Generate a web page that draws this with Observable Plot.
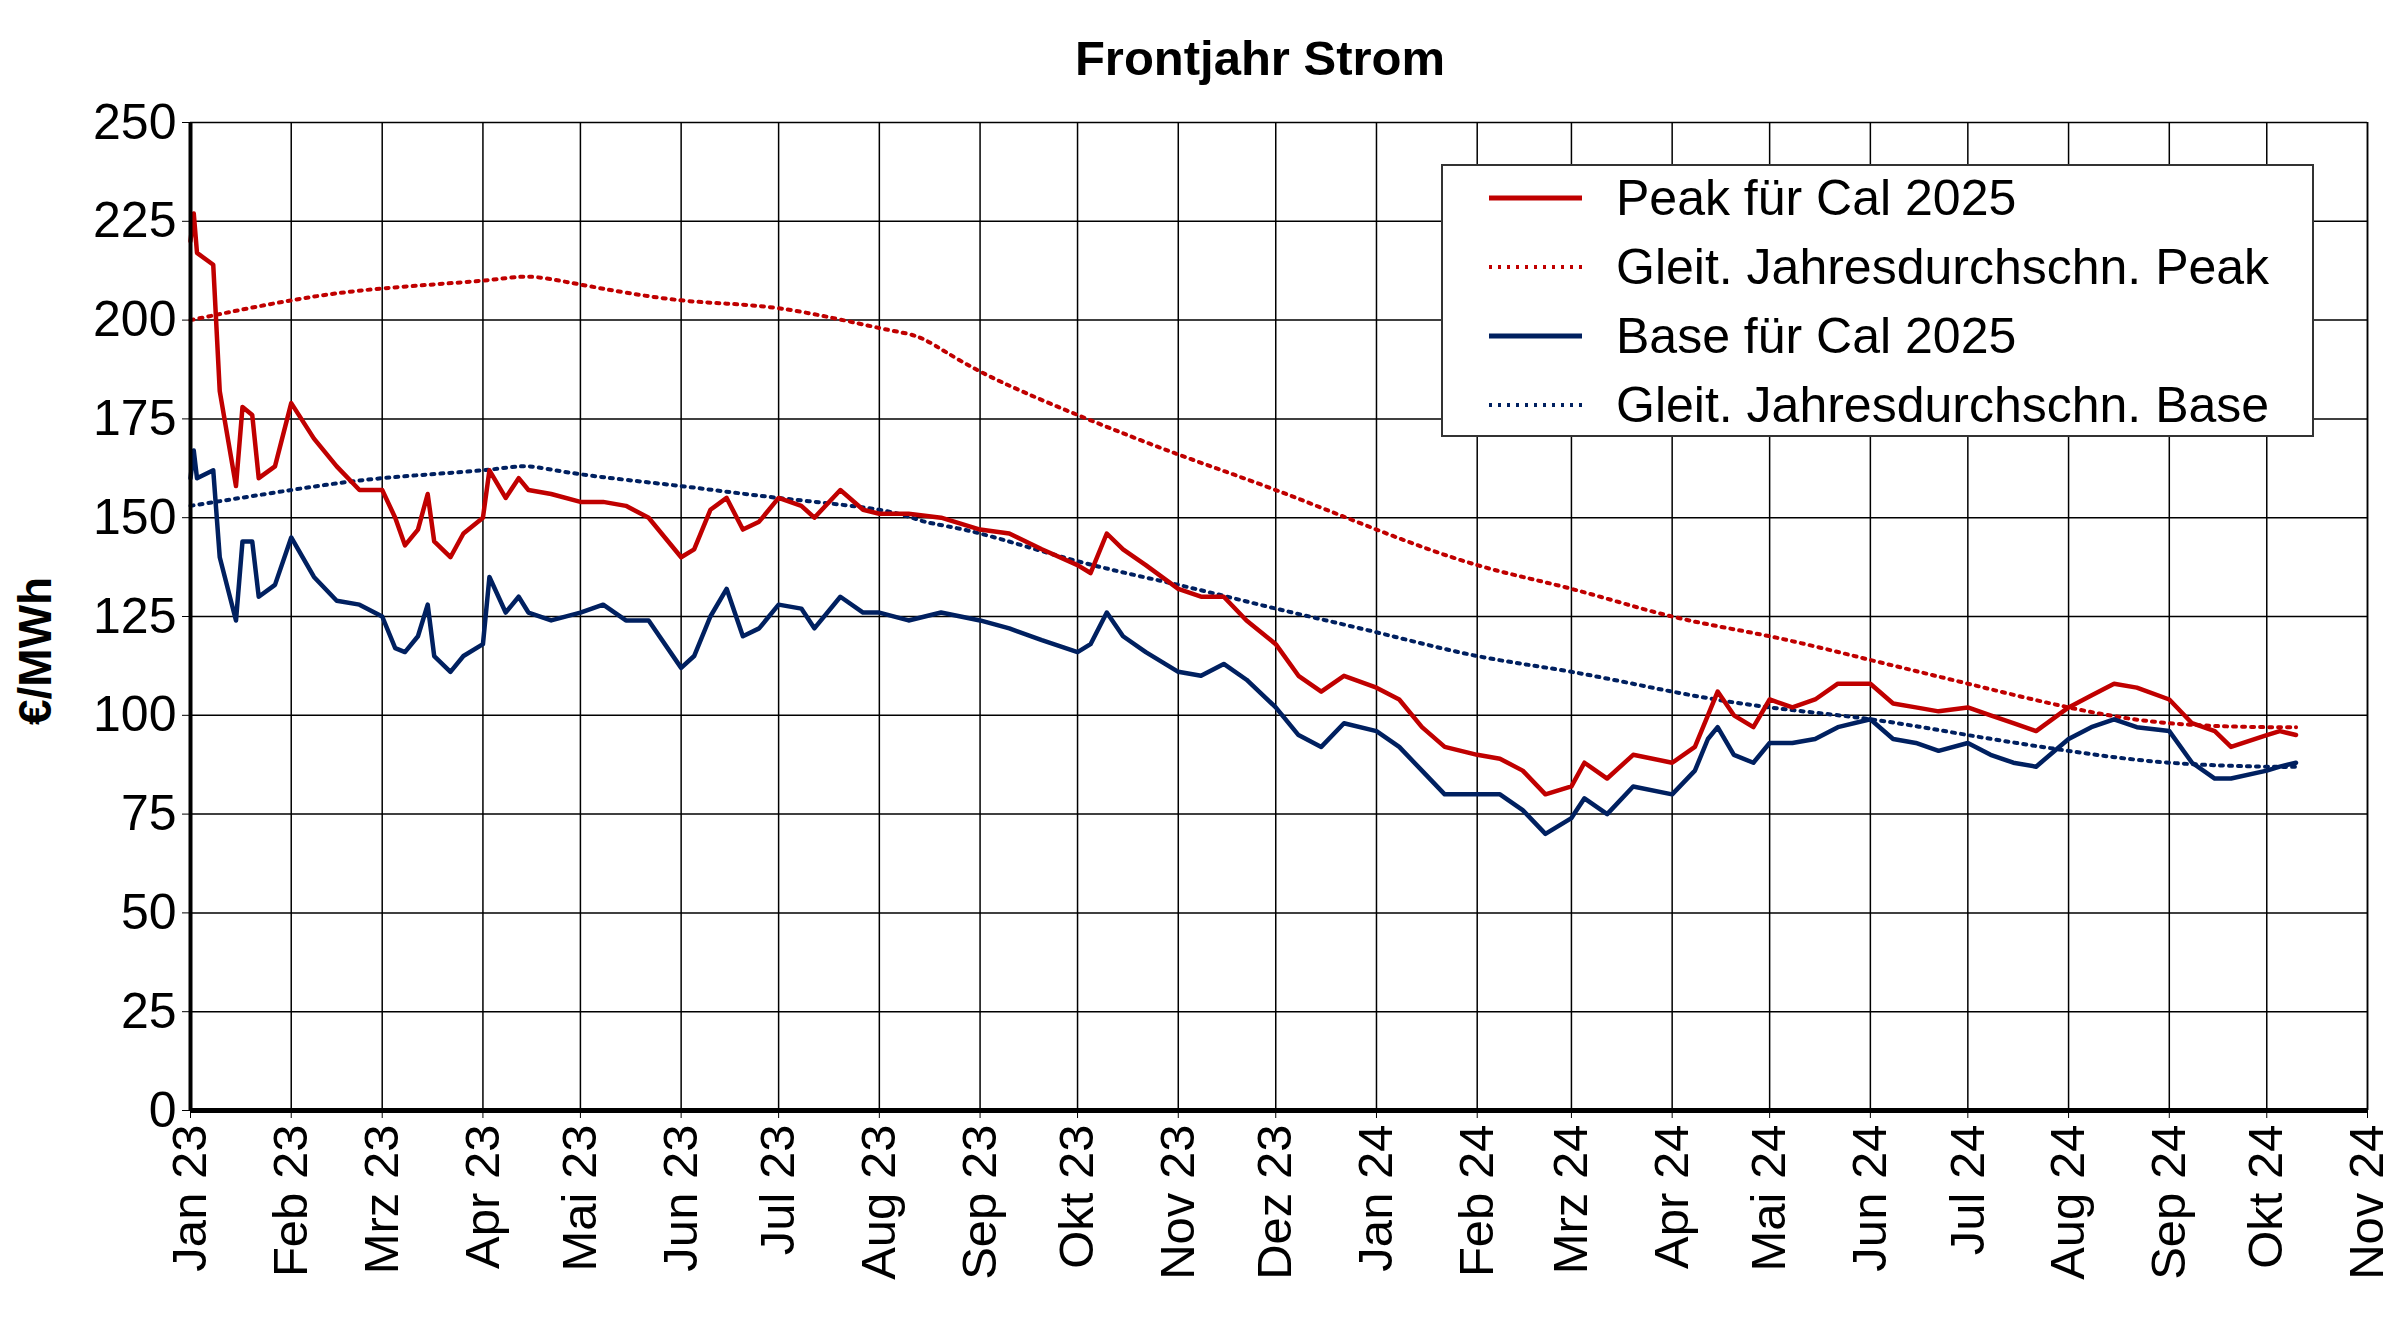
<!DOCTYPE html>
<html><head><meta charset="utf-8">
<script src="https://cdn.jsdelivr.net/npm/d3@7"></script>
<script src="https://cdn.jsdelivr.net/npm/@observablehq/plot@0.6"></script>
<style>
body{margin:0;background:#fff;font-family:"Liberation Sans",Arial,sans-serif;}
#wrap{position:relative;width:2400px;height:1323px;}
#title{position:absolute;top:30px;left:0;width:2520px;text-align:center;font-weight:bold;font-size:49px;}
#chart{position:absolute;top:90px;left:0;}
#legend{position:absolute;left:1441px;top:164px;width:869px;height:269px;border:2px solid #333;background:#fff;font-size:50px;}
.item{position:absolute;left:46px;height:60px;display:flex;align-items:center;}
.item svg{margin-right:34px}
#ylab{position:absolute;left:8px;top:725px;transform:rotate(-90deg);transform-origin:left top;font-weight:bold;font-size:46px;}
</style></head><body>
<div id="wrap"><div id="title">Frontjahr Strom</div><div id="chart"></div><div id="legend"></div></div>
<script>
const peakDates=["2023-01-01","2023-01-02","2023-01-03","2023-01-08","2023-01-10","2023-01-15","2023-01-17","2023-01-20","2023-01-22","2023-01-27","2023-02-01","2023-02-08","2023-02-15","2023-02-22","2023-03-01","2023-03-05","2023-03-08","2023-03-12","2023-03-15","2023-03-17","2023-03-22","2023-03-26","2023-04-01","2023-04-03","2023-04-08","2023-04-12","2023-04-15","2023-04-22","2023-05-01","2023-05-08","2023-05-15","2023-05-22","2023-06-01","2023-06-05","2023-06-10","2023-06-15","2023-06-20","2023-06-25","2023-07-01","2023-07-08","2023-07-12","2023-07-20","2023-07-27","2023-08-01","2023-08-10","2023-08-20","2023-09-01","2023-09-10","2023-09-20","2023-10-01","2023-10-05","2023-10-10","2023-10-15","2023-10-22","2023-11-01","2023-11-08","2023-11-15","2023-11-22","2023-12-01","2023-12-08","2023-12-15","2023-12-22","2024-01-01","2024-01-08","2024-01-15","2024-01-22","2024-02-01","2024-02-08","2024-02-15","2024-02-22","2024-03-01","2024-03-05","2024-03-12","2024-03-20","2024-04-01","2024-04-08","2024-04-12","2024-04-15","2024-04-20","2024-04-26","2024-05-01","2024-05-08","2024-05-15","2024-05-22","2024-06-01","2024-06-08","2024-06-15","2024-06-22","2024-07-01","2024-07-08","2024-07-15","2024-07-22","2024-08-01","2024-08-08","2024-08-15","2024-08-22","2024-09-01","2024-09-08","2024-09-15","2024-09-20","2024-10-01","2024-10-05","2024-10-10"];
const peakValues=[220,227,217,214,182,158,178,176,160,163,179,170,163,157,157,150,143,147,156,144,140,146,150,162,155,160,157,156,154,154,153,150,140,142,152,155,147,149,155,153,150,157,152,151,151,150,147,146,142,138,136,146,142,138,132,130,130,124,118,110,106,110,107,104,97,92,90,89,86,80,82,88,84,90,88,92,100,106,100,97,104,102,104,108,108,103,102,101,102,100,98,96,102,105,108,107,104,98,96,92,95,96,95];
const baseValues=[160,167,160,162,140,124,144,144,130,133,145,135,129,128,125,117,116,120,128,115,111,115,118,135,126,130,126,124,126,128,124,124,112,115,125,132,120,122,128,127,122,130,126,126,124,126,124,122,119,116,118,126,120,116,111,110,113,109,102,95,92,98,96,92,86,80,80,80,76,70,74,79,75,82,80,86,94,97,90,88,93,93,94,97,99,94,93,91,93,90,88,87,94,97,99,97,96,88,84,84,86,87,88];
const maDates=["2023-01-01","2023-02-01","2023-03-01","2023-04-01","2023-04-15","2023-05-01","2023-06-01","2023-07-01","2023-08-01","2023-08-15","2023-09-01","2023-10-01","2023-11-01","2023-12-01","2024-01-01","2024-02-01","2024-03-01","2024-04-01","2024-05-01","2024-06-01","2024-07-01","2024-08-01","2024-09-01","2024-10-01","2024-10-10"];
const maPeak=[200,205,208,210,211,209,205,203,198,195,187,176,166,157,147,138,132,125,120,114,108,102,98,97,97];
const maBase=[153,157,160,162,163,161,158,155,152,149,146,139,133,127,121,115,111,106,102,99,95,91,88,87,87];
const monthNames=["Jan","Feb","Mrz","Apr","Mai","Jun","Jul","Aug","Sep","Okt","Nov","Dez"];
const yTicks=[0,25,50,75,100,125,150,175,200,225,250];

const RED="#c00000",NAVY="#002060";
const pk=peakDates.map((d,i)=>({date:new Date(d),v:peakValues[i]}));
const bs=peakDates.map((d,i)=>({date:new Date(d),v:baseValues[i]}));
const mp=maDates.map((d,i)=>({date:new Date(d),v:maPeak[i]}));
const mb=maDates.map((d,i)=>({date:new Date(d),v:maBase[i]}));
const xTicks=d3.utcMonths(new Date("2023-01-01"),new Date("2024-11-02"));
const x0=new Date("2023-01-01"),x1=new Date("2024-11-01");

const chart=Plot.plot({
  width:2400,height:1233,
  marginTop:32,marginBottom:213,marginLeft:190,marginRight:33,
  style:{fontFamily:"Liberation Sans, Arial, sans-serif",fontSize:"50px",color:"#000"},
  x:{type:"utc",domain:[x0,x1]},
  y:{domain:[0,250]},
  marks:[
    Plot.gridX(xTicks,{stroke:"#000",strokeOpacity:1,strokeWidth:1.5}),
    Plot.gridY(yTicks,{stroke:"#000",strokeOpacity:1,strokeWidth:1.5}),
    Plot.ruleX([x1],{stroke:"#000",strokeWidth:1.5}),
    Plot.axisX(xTicks,{tickFormat:d=>monthNames[d.getUTCMonth()]+" "+String(d.getUTCFullYear()).slice(2),tickRotate:-90,textAnchor:"end",tickSize:8,tickPadding:6,fontSize:49,label:null}),
    Plot.axisY(yTicks,{tickSize:8,tickPadding:6,fontSize:50,label:null}),
    Plot.line(mp,{x:"date",y:"v",stroke:RED,strokeWidth:4,strokeDasharray:"3,6",curve:"natural"}),
    Plot.line(mb,{x:"date",y:"v",stroke:NAVY,strokeWidth:4,strokeDasharray:"3,6",curve:"natural"}),
    Plot.line(bs,{x:"date",y:"v",stroke:NAVY,strokeWidth:4.5}),
    Plot.line(pk,{x:"date",y:"v",stroke:RED,strokeWidth:4.5}),
    Plot.ruleY([0],{stroke:"#000",strokeWidth:5}),
    Plot.ruleX([x0],{stroke:"#000",strokeWidth:4})
  ]
});
document.getElementById("chart").appendChild(chart);
const items=[["Peak für Cal 2025",RED,null],["Gleit. Jahresdurchschn. Peak",RED,"3,6"],["Base für Cal 2025",NAVY,null],["Gleit. Jahresdurchschn. Base",NAVY,"3,6"]];
const leg=document.getElementById("legend");
items.forEach((it,i)=>{
  const d=document.createElement("div");d.className="item";d.style.top=(2+i*69)+"px";
  d.innerHTML=`<svg width="93" height="10"><line x1="0" y1="5" x2="93" y2="5" stroke="${it[1]}" stroke-width="${it[2]?4:5}" ${it[2]?`stroke-dasharray="${it[2]}"`:""}/></svg><span>${it[0]}</span>`;
  leg.appendChild(d);
});
</script>
<div id="ylab" style="position:absolute;">€/MWh</div>
</body></html>
